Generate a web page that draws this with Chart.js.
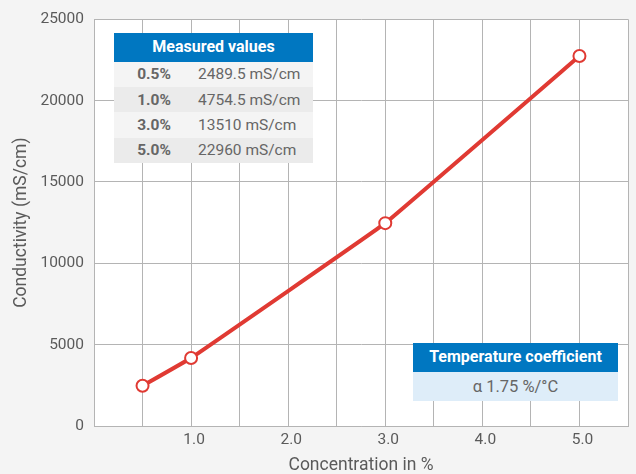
<!DOCTYPE html>
<html>
<head>
<meta charset="utf-8">
<script src="https://cdn.jsdelivr.net/npm/chart.js@4"></script>
<style>
  html, body { margin: 0; padding: 0; background: #f4f4f4; }
  #wrap { position: relative; width: 636px; height: 474px; font-family: Roboto, sans-serif; }
  canvas { position: absolute; left: 0; top: 0; }
  .tbl { position: absolute; }
  .hdr { background: #0077c1; color: #fff; font-weight: bold; font-size: 16px; text-align: center; }
  .row { display: flex; align-items: center; color: #666; font-size: 15.5px; }
  .pct { font-weight: bold; width: 80px; text-align: center; margin-right: 4px; }
</style>
</head>
<body>
<div id="wrap">
  <canvas id="c" width="636" height="474"></canvas>
  <div class="tbl" id="mtable" style="left:114px; top:33px; width:199px;"></div>
  <div class="tbl" id="ttable" style="left:413px; top:343px; width:205px;"></div>
</div>
<script>
const concentrations = [0.5, 1.0, 3.0, 5.0];
const conductivity = [2470, 4180, 12470, 22740];
const tableTitle = "Measured values";
const tableLabels = ["0.5%", "1.0%", "3.0%", "5.0%"];
const tableValues = ["2489.5 mS/cm", "4754.5 mS/cm", "13510 mS/cm", "22960 mS/cm"];
const coefTitle = "Temperature coefficient";
const coefValue = "α 1.75 %/°C";
const xTitle = "Concentration in %";
const yTitle = "Conductivity (mS/cm)";

// tables (HTML text)
const mt = document.getElementById('mtable');
let h = '<div class="hdr" style="height:28.5px;line-height:28.5px;">' + tableTitle + '</div>';
tableLabels.forEach((l, i) => {
  const bg = i % 2 === 0 ? '#f4f4f4' : '#ebebeb';
  h += '<div class="row" style="height:25.4px;background:' + bg + '"><span class="pct">' + l + '</span><span>' + tableValues[i] + '</span></div>';
});
mt.innerHTML = h;
document.getElementById('ttable').innerHTML =
  '<div class="hdr" style="height:28.5px;line-height:28.5px;">' + coefTitle + '</div>' +
  '<div class="row" style="height:29px;background:#deedf9;justify-content:center;font-size:16.5px;">' + coefValue + '</div>';

const plotBg = {
  id: 'plotBg',
  beforeDraw(chart) {
    const {ctx, chartArea: a} = chart;
    ctx.save();
    ctx.fillStyle = '#ffffff';
    ctx.fillRect(a.left, a.top, a.right - a.left, a.bottom - a.top);
    ctx.restore();
  }
};

const gridColor = '#b4b4b4';
const tickColor = '#5a5a5a';

new Chart(document.getElementById('c'), {
  type: 'line',
  data: {
    datasets: [{
      data: concentrations.map((x, i) => ({x: x, y: conductivity[i]})),
      borderColor: '#e03a33',
      borderWidth: 4,
      pointRadius: 6,
      pointBorderWidth: 2,
      pointBackgroundColor: '#ffffff',
      pointBorderColor: '#e03a33',
      tension: 0.05
    }]
  },
  options: {
    responsive: false,
    animation: false,
    devicePixelRatio: 1,
    layout: { padding: { left: 0, right: 3, top: 13, bottom: 0 } },
    plugins: { legend: { display: false }, tooltip: { enabled: false } },
    scales: {
      x: {
        type: 'linear',
        min: 0, max: 5.5,
        afterFit(s) { s.height = 48; },
        grid: { color: gridColor, lineWidth: 1, drawTicks: false },
        border: { color: gridColor, width: 1 },
        ticks: {
          stepSize: 0.5,
          padding: 5,
          labelOffset: 3,
          color: tickColor,
          font: { family: 'Roboto', size: 15.5 },
          autoSkip: false,
          maxRotation: 0,
          callback: v => (v > 0 && Math.abs(v - Math.round(v)) < 1e-9) ? v.toFixed(1) : ''
        },
        title: {
          display: true, text: xTitle, color: tickColor,
          font: { family: 'Roboto', size: 17.5, lineHeight: 1 },
          padding: { top: 0, bottom: 0 }
        }
      },
      y: {
        min: 0, max: 25000,
        afterFit(s) { s.width = 94; },
        grid: { color: gridColor, lineWidth: 1, drawTicks: false },
        border: { color: gridColor, width: 1 },
        ticks: {
          stepSize: 5000,
          padding: 10,
          color: tickColor,
          font: { family: 'Roboto', size: 15.5 },
          callback: v => String(v)
        },
        title: {
          display: true, text: yTitle, color: tickColor,
          font: { family: 'Roboto', size: 17.5, lineHeight: 1.2 },
          padding: { top: 11.5, bottom: 0 }
        }
      }
    }
  },
  plugins: [plotBg]
});
</script>
</body>
</html>
